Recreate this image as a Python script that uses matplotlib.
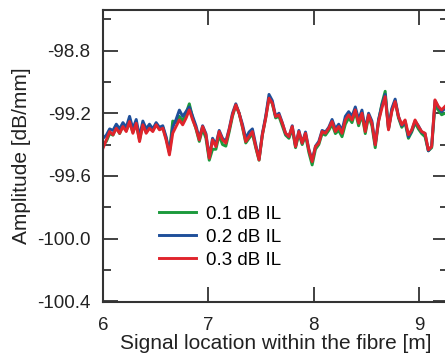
import numpy as np
import matplotlib
matplotlib.use('Agg')
import matplotlib.pyplot as plt
from matplotlib.ticker import MultipleLocator

plt.rcParams['font.family'] = ['Liberation Sans', 'DejaVu Sans']
plt.rcParams['axes.unicode_minus'] = False

amp_03 = [-99.423, -99.370, -99.317, -99.338, -99.296, -99.328, -99.285, -99.317, -99.253, -99.328,
          -99.264, -99.381, -99.274, -99.328, -99.296, -99.317, -99.274, -99.306, -99.296, -99.370,
          -99.466, -99.328, -99.285, -99.243, -99.274, -99.232, -99.179, -99.243, -99.296, -99.370,
          -99.285, -99.338, -99.487, -99.370, -99.413, -99.317, -99.370, -99.391, -99.306, -99.211,
          -99.147, -99.200, -99.285, -99.381, -99.349, -99.317, -99.413, -99.498, -99.338, -99.232,
          -99.104, -99.136, -99.221, -99.211, -99.264, -99.328, -99.349, -99.285, -99.413, -99.317,
          -99.391, -99.328, -99.434, -99.509, -99.413, -99.391, -99.317, -99.328, -99.296, -99.253,
          -99.317, -99.285, -99.328, -99.243, -99.211, -99.243, -99.179, -99.264, -99.200, -99.317,
          -99.211, -99.264, -99.402, -99.253, -99.168, -99.094, -99.306, -99.189, -99.126, -99.221,
          -99.274, -99.243, -99.338, -99.306, -99.243, -99.285, -99.317, -99.328, -99.434, -99.413,
          -99.115, -99.157, -99.179, -99.157]

amp_02 = [-99.36, -99.34, -99.30, -99.31, -99.27, -99.30, -99.26, -99.29, -99.22, -99.30,
          -99.24, -99.35, -99.25, -99.30, -99.27, -99.30, -99.26, -99.29, -99.28, -99.35,
          -99.45, -99.29, -99.24, -99.18, -99.22, -99.19, -99.16, -99.22, -99.28, -99.36,
          -99.28, -99.33, -99.48, -99.36, -99.40, -99.31, -99.36, -99.38, -99.30, -99.20,
          -99.14, -99.20, -99.27, -99.36, -99.32, -99.30, -99.40, -99.49, -99.33, -99.22,
          -99.08, -99.12, -99.22, -99.20, -99.26, -99.33, -99.35, -99.28, -99.41, -99.31,
          -99.39, -99.32, -99.43, -99.50, -99.41, -99.38, -99.31, -99.32, -99.29, -99.24,
          -99.30, -99.27, -99.31, -99.22, -99.19, -99.22, -99.16, -99.24, -99.18, -99.30,
          -99.20, -99.25, -99.40, -99.24, -99.15, -99.08, -99.30, -99.17, -99.11, -99.22,
          -99.28, -99.25, -99.35, -99.31, -99.25, -99.28, -99.32, -99.33, -99.44, -99.41,
          -99.12, -99.16, -99.19, -99.17]

amp_01 = [-99.40, -99.38, -99.33, -99.34, -99.29, -99.33, -99.28, -99.31, -99.26, -99.32,
          -99.27, -99.37, -99.27, -99.32, -99.29, -99.31, -99.27, -99.30, -99.29, -99.36,
          -99.45, -99.25, -99.26, -99.22, -99.25, -99.20, -99.14, -99.23, -99.30, -99.38,
          -99.30, -99.36, -99.50, -99.43, -99.43, -99.34, -99.40, -99.41, -99.32, -99.22,
          -99.15, -99.20, -99.29, -99.39, -99.36, -99.33, -99.42, -99.50, -99.34, -99.23,
          -99.10, -99.14, -99.23, -99.22, -99.28, -99.34, -99.36, -99.30, -99.42, -99.33,
          -99.40, -99.34, -99.45, -99.53, -99.43, -99.40, -99.33, -99.34, -99.31, -99.27,
          -99.33, -99.31, -99.35, -99.27, -99.23, -99.26, -99.19, -99.28, -99.21, -99.33,
          -99.22, -99.28, -99.42, -99.25, -99.14, -99.06, -99.30, -99.18, -99.12, -99.23,
          -99.29, -99.26, -99.36, -99.32, -99.26, -99.30, -99.33, -99.35, -99.44, -99.42,
          -99.15, -99.18, -99.21, -99.20]

labels = ['0.1 dB IL', '0.2 dB IL', '0.3 dB IL']
colors = ['#1c9a3c', '#1f4f9a', '#e0242c']

pos = np.linspace(6.0, 9.245, len(amp_03))

fig = plt.figure(figsize=(4.45, 3.61), dpi=100)
ax = fig.add_axes([0.2315, 0.1634, 0.775, 0.809])

for amp, lab, col in zip([amp_01, amp_02, amp_03], labels, colors):
    ax.plot(pos, amp, color=col, lw=2.1, label=lab)

ax.set_xlim(6, 9.273)
ax.set_ylim(-100.405, -98.541)
ax.xaxis.set_major_locator(MultipleLocator(1))
ax.yaxis.set_major_locator(MultipleLocator(0.4))
ax.yaxis.set_minor_locator(MultipleLocator(0.2))
ax.yaxis.set_major_formatter(plt.FormatStrFormatter('%.1f'))

for s in ax.spines.values():
    s.set_linewidth(1.5)
    s.set_color('#333333')
ax.tick_params(which='both', direction='in', top=True, right=True, width=1.3, color='#333333',
               labelsize=13.5, labelcolor='#222222')
ax.tick_params(which='major', length=11, pad=9)
ax.tick_params(axis='x', which='major', pad=11)
ax.tick_params(which='minor', length=6)

ax.set_xlabel('Signal location within the fibre [m]', fontsize=15, color='#222222', labelpad=0)
ax.set_ylabel('Amplitude [dB/mm]', fontsize=15, color='#222222', labelpad=4)

ax.legend(loc='upper left', bbox_to_anchor=(0.162, 0.33), frameon=False, fontsize=13.5,
          handlelength=2.0, handletextpad=0.5, labelspacing=0.32, borderpad=0, borderaxespad=0)

fig.savefig('out.png', dpi=100)
